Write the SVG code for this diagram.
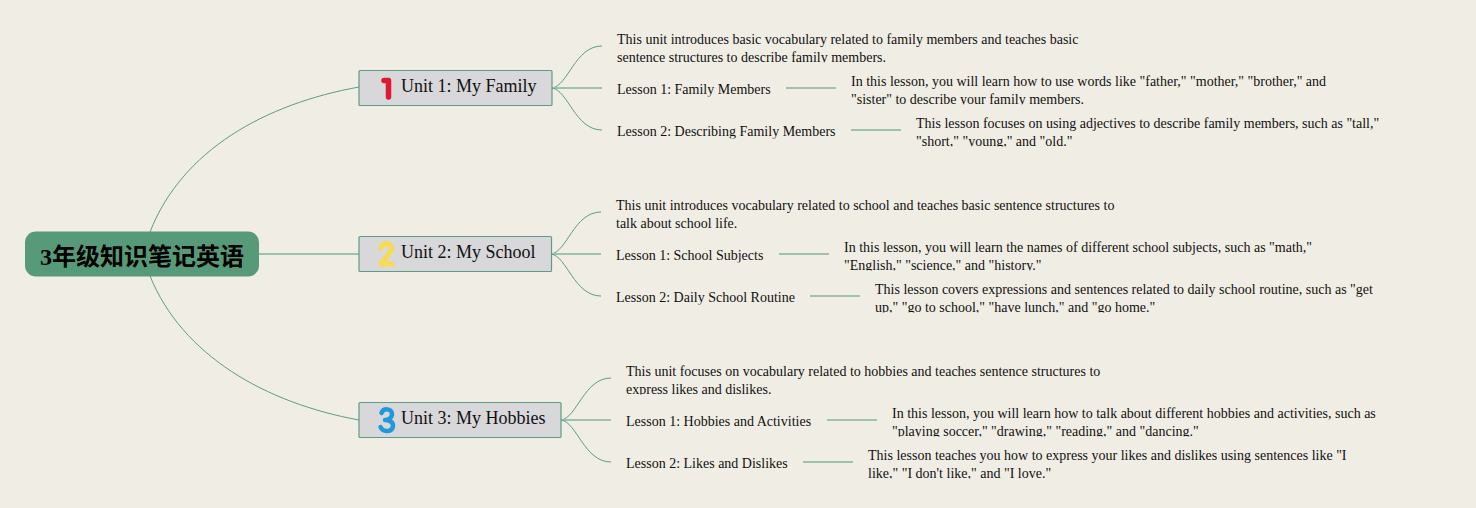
<svg xmlns="http://www.w3.org/2000/svg" width="1476" height="508" viewBox="0 0 1476 508">
<style>
text{font-family:"Liberation Serif","Noto Sans CJK SC",serif;fill:#111}
.t{font-size:14px}
.u{font-size:18px}
.root{font-size:24px;font-weight:bold;fill:#000}
.ub{fill:#d8d8da;stroke:#5f9c86;stroke-width:1.2}
.c{fill:none;stroke:#5f9c85;stroke-width:1}
.s{fill:none;stroke:#9dc2ad;stroke-width:2}
.i{fill:none;stroke-linecap:round;stroke-linejoin:round}
</style>
<defs>
<clipPath id="a1"><rect x="610" y="28" width="500" height="34.500"/></clipPath>
<clipPath id="a2"><rect x="610" y="80" width="170" height="16.500"/></clipPath>
<clipPath id="a3"><rect x="610" y="122" width="240" height="16.500"/></clipPath>
<clipPath id="a4"><rect x="845" y="70" width="500" height="34.500"/></clipPath>
<clipPath id="a5"><rect x="910" y="112" width="490" height="34.500"/></clipPath>
<clipPath id="b1"><rect x="610" y="194" width="520" height="34.500"/></clipPath>
<clipPath id="b2"><rect x="610" y="246" width="170" height="16.500"/></clipPath>
<clipPath id="b3"><rect x="610" y="288" width="200" height="16.500"/></clipPath>
<clipPath id="b4"><rect x="838" y="236" width="500" height="34.500"/></clipPath>
<clipPath id="b5"><rect x="870" y="278" width="520" height="34.500"/></clipPath>
<clipPath id="c1"><rect x="620" y="360" width="500" height="34.500"/></clipPath>
<clipPath id="c2"><rect x="620" y="412" width="200" height="16.500"/></clipPath>
<clipPath id="c3"><rect x="620" y="454" width="180" height="16.500"/></clipPath>
<clipPath id="c4"><rect x="886" y="402" width="510" height="34.500"/></clipPath>
<clipPath id="c5"><rect x="862" y="444" width="510" height="34.500"/></clipPath>
</defs>
<rect width="1476" height="508" fill="#f0ede4"/>
<g id="connectors">
<path class="c" d="M150 232C182 150 265 104 359 87"/>
<path class="s" d="M259 254H359"/>
<path class="c" d="M150 276C182 355 265 403 359 420"/>
<path class="c" d="M552 88C568 86 575 46 602 46"/>
<path class="s" d="M552 88H602"/>
<path class="c" d="M552 88C568 90 575 130 602 130"/>
<path class="s" d="M786 88H836"/>
<path class="s" d="M851 130H901"/>
<path class="c" d="M551 254C567 252 574 212 601 212"/>
<path class="s" d="M551 254H601"/>
<path class="c" d="M551 254C567 256 574 296 601 296"/>
<path class="s" d="M779 254H829"/>
<path class="s" d="M810 296H860"/>
<path class="c" d="M561 420C577 418 584 378 611 378"/>
<path class="s" d="M561 420H611"/>
<path class="c" d="M561 420C577 422 584 462 611 462"/>
<path class="s" d="M827 420H877"/>
<path class="s" d="M803 462H853"/>
</g>
<g id="root">
<rect x="25" y="231.500" width="234" height="45" rx="11" fill="#579a79"/>
<text class="root" x="40" y="265">3年级知识笔记英语</text>
</g>
<g id="unit1">
<rect class="ub" x="359" y="70.500" width="193" height="35" rx="1"/>
<path class="i" d="M384 80.500H388.500V97" stroke="#dc1a30" stroke-width="5.500"/>
<text class="u" x="401" y="92">Unit 1: My Family</text>
</g>
<g id="unit2">
<rect class="ub" x="359" y="236.500" width="192.500" height="35" rx="1"/>
<path class="i" d="M381 248C382 242 392 242 391.500 249C391 254 384 258 381 264H392" stroke="#f6dc4e" stroke-width="5"/>
<text class="u" x="401" y="258">Unit 2: My School</text>
</g>
<g id="unit3">
<rect class="ub" x="359" y="402.500" width="202" height="35" rx="1"/>
<path class="i" d="M381.500 413C383 408 392 408 392 414C392 418 388 420 385 420C389 420 393.500 422 393 426C392.500 432 383 433 380.500 427" stroke="#2099dc" stroke-width="4.500"/>
<text class="u" x="401" y="424">Unit 3: My Hobbies</text>
</g>
<g id="u1-desc" clip-path="url(#a1)"><text class="t" x="617" y="44">This unit introduces basic vocabulary related to family members and teaches basic</text><text class="t" x="617" y="62">sentence structures to describe family members.</text></g>
<g id="u1-l1" clip-path="url(#a2)"><text class="t" x="617" y="94">Lesson 1: Family Members</text></g>
<g id="u1-l2" clip-path="url(#a3)"><text class="t" x="617" y="136">Lesson 2: Describing Family Members</text></g>
<g id="u1-l1-desc" clip-path="url(#a4)"><text class="t" x="851" y="86">In this lesson, you will learn how to use words like "father," "mother," "brother," and</text><text class="t" x="851" y="104">"sister" to describe your family members.</text></g>
<g id="u1-l2-desc" clip-path="url(#a5)"><text class="t" x="916" y="128">This lesson focuses on using adjectives to describe family members, such as "tall,"</text><text class="t" x="916" y="146">"short," "young," and "old."</text></g>
<g id="u2-desc" clip-path="url(#b1)"><text class="t" x="616" y="210">This unit introduces vocabulary related to school and teaches basic sentence structures to</text><text class="t" x="616" y="228">talk about school life.</text></g>
<g id="u2-l1" clip-path="url(#b2)"><text class="t" x="616" y="260">Lesson 1: School Subjects</text></g>
<g id="u2-l2" clip-path="url(#b3)"><text class="t" x="616" y="302">Lesson 2: Daily School Routine</text></g>
<g id="u2-l1-desc" clip-path="url(#b4)"><text class="t" x="844" y="252">In this lesson, you will learn the names of different school subjects, such as "math,"</text><text class="t" x="844" y="270">"English," "science," and "history."</text></g>
<g id="u2-l2-desc" clip-path="url(#b5)"><text class="t" x="875" y="294">This lesson covers expressions and sentences related to daily school routine, such as "get</text><text class="t" x="875" y="312">up," "go to school," "have lunch," and "go home."</text></g>
<g id="u3-desc" clip-path="url(#c1)"><text class="t" x="626" y="376">This unit focuses on vocabulary related to hobbies and teaches sentence structures to</text><text class="t" x="626" y="394">express likes and dislikes.</text></g>
<g id="u3-l1" clip-path="url(#c2)"><text class="t" x="626" y="426">Lesson 1: Hobbies and Activities</text></g>
<g id="u3-l2" clip-path="url(#c3)"><text class="t" x="626" y="468">Lesson 2: Likes and Dislikes</text></g>
<g id="u3-l1-desc" clip-path="url(#c4)"><text class="t" x="892" y="418">In this lesson, you will learn how to talk about different hobbies and activities, such as</text><text class="t" x="892" y="436">"playing soccer," "drawing," "reading," and "dancing."</text></g>
<g id="u3-l2-desc" clip-path="url(#c5)"><text class="t" x="868" y="460">This lesson teaches you how to express your likes and dislikes using sentences like "I</text><text class="t" x="868" y="478">like," "I don't like," and "I love."</text></g>
</svg>
